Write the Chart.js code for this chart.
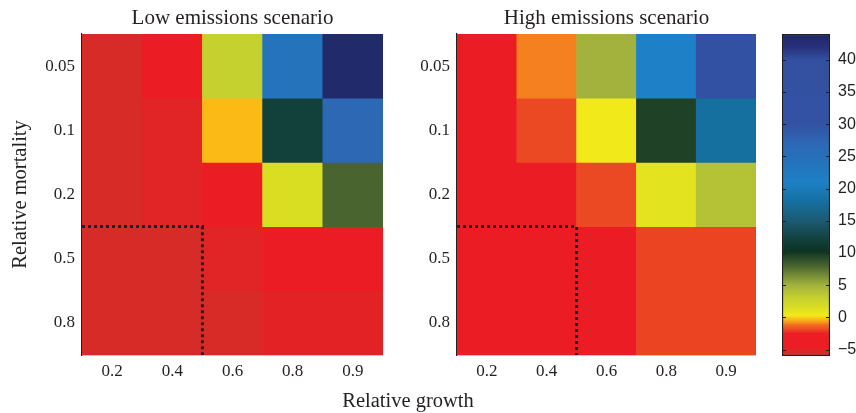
<!DOCTYPE html>
<html>
<head>
<meta charset="utf-8">
<script src="https://cdn.jsdelivr.net/npm/chart.js@4.4.1/dist/chart.umd.min.js"></script>
<style>
  body { margin: 0; background: #fff; width: 856px; height: 413px; position: relative; overflow: hidden; }
  canvas { position: absolute; top: 0; }
  #xtitle { position: absolute; left: 0; width: 816px; top: 388px; text-align: center;
            font: 20.5px "Liberation Serif", serif; color: #231f20; line-height: 24px; }
</style>
</head>
<body>
<canvas id="low" width="383" height="413" style="left:0"></canvas>
<canvas id="high" width="356" height="413" style="left:400px"></canvas>
<canvas id="cbar" width="86" height="413" style="left:770px"></canvas>
<div id="xtitle">Relative growth</div>
<script>
// axes
const growth = ['0.2', '0.4', '0.6', '0.8', '0.9'];
const mortality = ['0.05', '0.1', '0.2', '0.5', '0.8'];

// rows = mortality (top to bottom), columns = growth
const lowValues = [
  [-5.5, -4.3,  3.0, 24.0, 43.5],
  [-5.5, -5.0, -0.3, 12.0, 27.0],
  [-5.5, -5.0, -4.2,  1.5,  8.0],
  [-5.5, -5.5, -5.0, -4.3, -4.3],
  [-5.5, -5.5, -5.4, -4.9, -4.9]
];
const highValues = [
  [-4.3, -1.0,  5.0, 21.0, 33.0],
  [-4.3, -1.9,  0.3,  9.6, 18.0],
  [-4.3, -4.3, -1.9,  1.0,  4.0],
  [-4.3, -4.3, -4.3, -2.0, -2.0],
  [-4.3, -4.3, -4.3, -2.0, -2.0]
];

// dotted outline (growth index, mortality index)
const boxLine = [[0, 3], [2, 3], [2, 5]];

// colour bar
const cbMin = -6, cbMax = 44;
const cbTicks = [-5, 0, 5, 10, 15, 20, 25, 30, 35, 40];
const cmap = [
  [-6, '#d42b27'], [-5.5, '#d62b27'], [-4.5, '#ec1c24'], [-2.5, '#ec1f24'],
  [-2, '#ea4423'], [-1.2, '#f26b21'], [-0.8, '#f7941d'], [-0.3, '#fbba16'],
  [0.3, '#f1e91a'], [1.5, '#dade22'], [3, '#c5d12f'], [5, '#a3b23c'],
  [8, '#4a6430'], [10.3, '#0c3323'], [12, '#12403a'], [15, '#1b5a72'],
  [18, '#1570a0'], [21, '#1e80c6'], [24, '#2473bb'], [27, '#2d68b5'],
  [30, '#3352a3'], [40, '#3350a0'], [42, '#27307a'], [44, '#1f2866']
];

const ink = '#231f20';
const serif = '"Liberation Serif", serif';

function hex(c) { return [1, 3, 5].map(i => parseInt(c.slice(i, i + 2), 16)); }
function colorFor(v) {
  if (v <= cmap[0][0]) return cmap[0][1];
  for (let i = 1; i < cmap.length; i++) {
    if (v <= cmap[i][0]) {
      const [v0, c0] = cmap[i - 1], [v1, c1] = cmap[i];
      const t = (v - v0) / (v1 - v0);
      const a = hex(c0), b = hex(c1);
      return 'rgb(' + a.map((x, k) => Math.round(x + (b[k] - x) * t)).join(',') + ')';
    }
  }
  return cmap[cmap.length - 1][1];
}

function heatmap(id, title, values, yWidth, padLeft, showYTitle) {
  const datasets = mortality.map((m, r) => ({
    type: 'bar',
    data: growth.map(() => [r, r + 1]),
    backgroundColor: values[r].map(colorFor),
    grouped: false,
    barPercentage: 1,
    categoryPercentage: 1,
    borderWidth: 0,
    xAxisID: 'x',
    yAxisID: 'y'
  }));
  datasets.push({
    type: 'line',
    data: boxLine.map(([x, y]) => ({ x, y })),
    xAxisID: 'xl',
    yAxisID: 'y',
    borderColor: ink,
    borderWidth: 3,
    borderDash: [3, 3],
    borderCapStyle: 'butt',
    pointRadius: 0,
    fill: false,
    order: -1
  });

  new Chart(document.getElementById(id), {
    type: 'bar',
    data: { labels: growth, datasets },
    options: {
      responsive: false,
      animation: false,
      layout: { padding: { left: padLeft, right: 0, top: 0, bottom: 0 } },
      plugins: {
        legend: { display: false },
        tooltip: { enabled: false },
        title: {
          display: true, text: title, fullSize: false, color: ink,
          font: { family: serif, size: 21, weight: 'normal' },
          padding: { top: 5.5, bottom: 3.3 }
        }
      },
      scales: {
        x: {
          type: 'category', offset: true, z: 1,
          grid: { display: false, drawTicks: false },
          border: { display: true, color: ink, width: 1.2 },
          ticks: { color: ink, font: { family: serif, size: 17 }, padding: 6, maxRotation: 0 },
          afterFit: s => { s.height = 58; }
        },
        xl: { type: 'linear', min: 0, max: 5, offset: false, display: false },
        y: {
          type: 'linear', min: 0, max: 5, reverse: true, z: 1,
          grid: { display: false, drawTicks: false },
          border: { display: true, color: ink, width: 1.2 },
          afterBuildTicks: s => { s.ticks = mortality.map((m, i) => ({ value: i + 0.5 })); },
          ticks: {
            color: ink, font: { family: serif, size: 17 }, padding: 7,
            autoSkip: false,
            callback: (v, i) => mortality[i]
          },
          title: {
            display: showYTitle, text: 'Relative mortality', color: ink,
            font: { family: serif, size: 20.5 }, padding: { top: 0, bottom: 0 }
          },
          afterFit: s => { s.width = yWidth; }
        }
      }
    }
  });
}

heatmap('low', 'Low emissions scenario', lowValues, 74, 8, true);
heatmap('high', 'High emissions scenario', highValues, 57, 0, false);

// colour bar
const innerTicks = {
  id: 'innerTicks',
  afterDatasetsDraw(chart) {
    const { ctx, chartArea: a, scales: { y } } = chart;
    ctx.save();
    ctx.strokeStyle = ink;
    ctx.lineWidth = 1;
    cbTicks.forEach(v => {
      const p = Math.round(y.getPixelForValue(v)) + 0.5;
      ctx.beginPath();
      ctx.moveTo(a.left, p); ctx.lineTo(a.left + 4, p);
      ctx.moveTo(a.right - 4, p); ctx.lineTo(a.right, p);
      ctx.stroke();
    });
    ctx.restore();
  }
};

new Chart(document.getElementById('cbar'), {
  type: 'bar',
  data: {
    labels: [''],
    datasets: [{
      data: [[cbMin, cbMax]],
      backgroundColor: c => {
        const ch = c.chart;
        if (!ch.chartArea) return null;
        const y = ch.scales.y;
        const g = ch.ctx.createLinearGradient(0, y.getPixelForValue(cbMin), 0, y.getPixelForValue(cbMax));
        cmap.forEach(([v, col]) => g.addColorStop((v - cbMin) / (cbMax - cbMin), col));
        return g;
      },
      borderColor: ink,
      borderWidth: 1.5,
      borderSkipped: false,
      barPercentage: 1,
      categoryPercentage: 1
    }]
  },
  options: {
    responsive: false,
    animation: false,
    layout: { padding: { left: 12, top: 34, bottom: 57, right: 0 } },
    plugins: { legend: { display: false }, tooltip: { enabled: false } },
    scales: {
      x: { display: false },
      y: {
        position: 'right', min: cbMin, max: cbMax,
        grid: { display: false, drawTicks: false },
        border: { display: false },
        afterBuildTicks: s => { s.ticks = cbTicks.map(v => ({ value: v })); },
        ticks: {
          color: ink, padding: 8, autoSkip: false,
          font: { family: '"Liberation Sans Narrow", "Liberation Sans", sans-serif', size: 16 },
          callback: v => (v < 0 ? '\u2212' + Math.abs(v) : String(v))
        },
        afterFit: s => { s.width = 26; }
      }
    }
  },
  plugins: [innerTicks]
});
</script>
</body>
</html>
